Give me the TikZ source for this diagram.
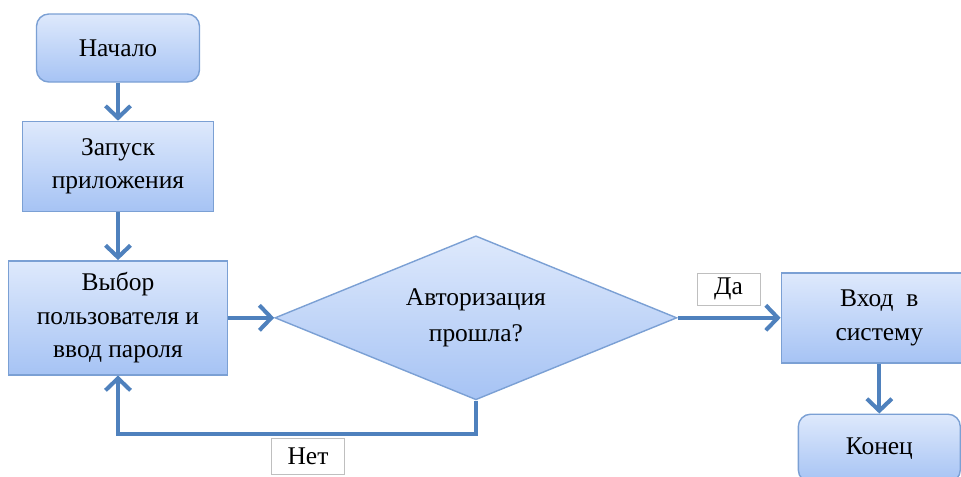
\documentclass[tikz,border=0pt]{standalone}
\usepackage{fontspec}
\setmainfont{Liberation Serif}
\newfontfamily\boxfont{Liberation Serif}
\usepackage{tikz}
\usetikzlibrary{arrows.meta,positioning,shapes.geometric}

\definecolor{boxtop}{HTML}{DEE9FC}
\definecolor{boxbot}{HTML}{A6C3F4}
\definecolor{boxline}{HTML}{7BA0D4}
\definecolor{arrowblue}{HTML}{4F81BD}

\begin{document}
\begin{tikzpicture}[font=\boxfont\fontsize{14.5}{19}\selectfont,
  block/.style={draw=boxline, top color=boxtop, bottom color=boxbot, align=center,
                line width=0.8pt, inner sep=2pt},
  term/.style={block, rounded corners=7pt},
  decision/.style={diamond, aspect=2.45, draw=boxline, top color=boxtop, bottom color=boxbot,
                   align=center, line width=0.8pt, inner sep=0pt,
                   minimum width=8.04cm, minimum height=3.28cm},
  tag/.style={draw=black!25, fill=white, line width=0.5pt, inner sep=0pt},
  arrow/.style={-{Straight Barb[length=2.4mm, width=5mm]}, line width=2.3pt, draw=arrowblue}]
  \useasboundingbox (0,0) rectangle (19.22,-9.52);
  \node[term, minimum width=3.26cm, minimum height=1.36cm] (start) at (2.36,-0.96) {Начало};
  \node[block, minimum width=3.82cm, minimum height=1.8cm, below=0.76cm of start] (launch) {Запуск\\приложения};
  \node[block, minimum width=4.38cm, minimum height=2.28cm, below=0.96cm of launch] (choice) {Выбор\\пользователя и\\ввод пароля};
  \node[decision, right=0.92cm of choice] (auth) {Авторизация\\[2pt]прошла?};
  \node[block, minimum width=3.92cm, minimum height=1.8cm, right=2.06cm of auth] (login) {Вход\ \ в\\систему};
  \node[term, minimum width=3.24cm, minimum height=1.36cm, below=1.0cm of login] (finish) {Конец};
  \node[tag, minimum width=1.26cm, minimum height=0.64cm] (yes) at (14.57,-5.78) {Да};
  \node[tag, minimum width=1.46cm, minimum height=0.72cm] (no) at (6.16,-9.12) {Нет};
  \draw[arrow] (start) -- (launch);
  \draw[arrow] (launch) -- (choice);
  \draw[arrow] (choice) -- (auth);
  \draw[arrow] (auth) -- (login);
  \draw[arrow] (login) -- (finish);
  \draw[arrow] (auth.south) -- ++(0,-0.66) -| (choice.south);
\end{tikzpicture}
\end{document}
